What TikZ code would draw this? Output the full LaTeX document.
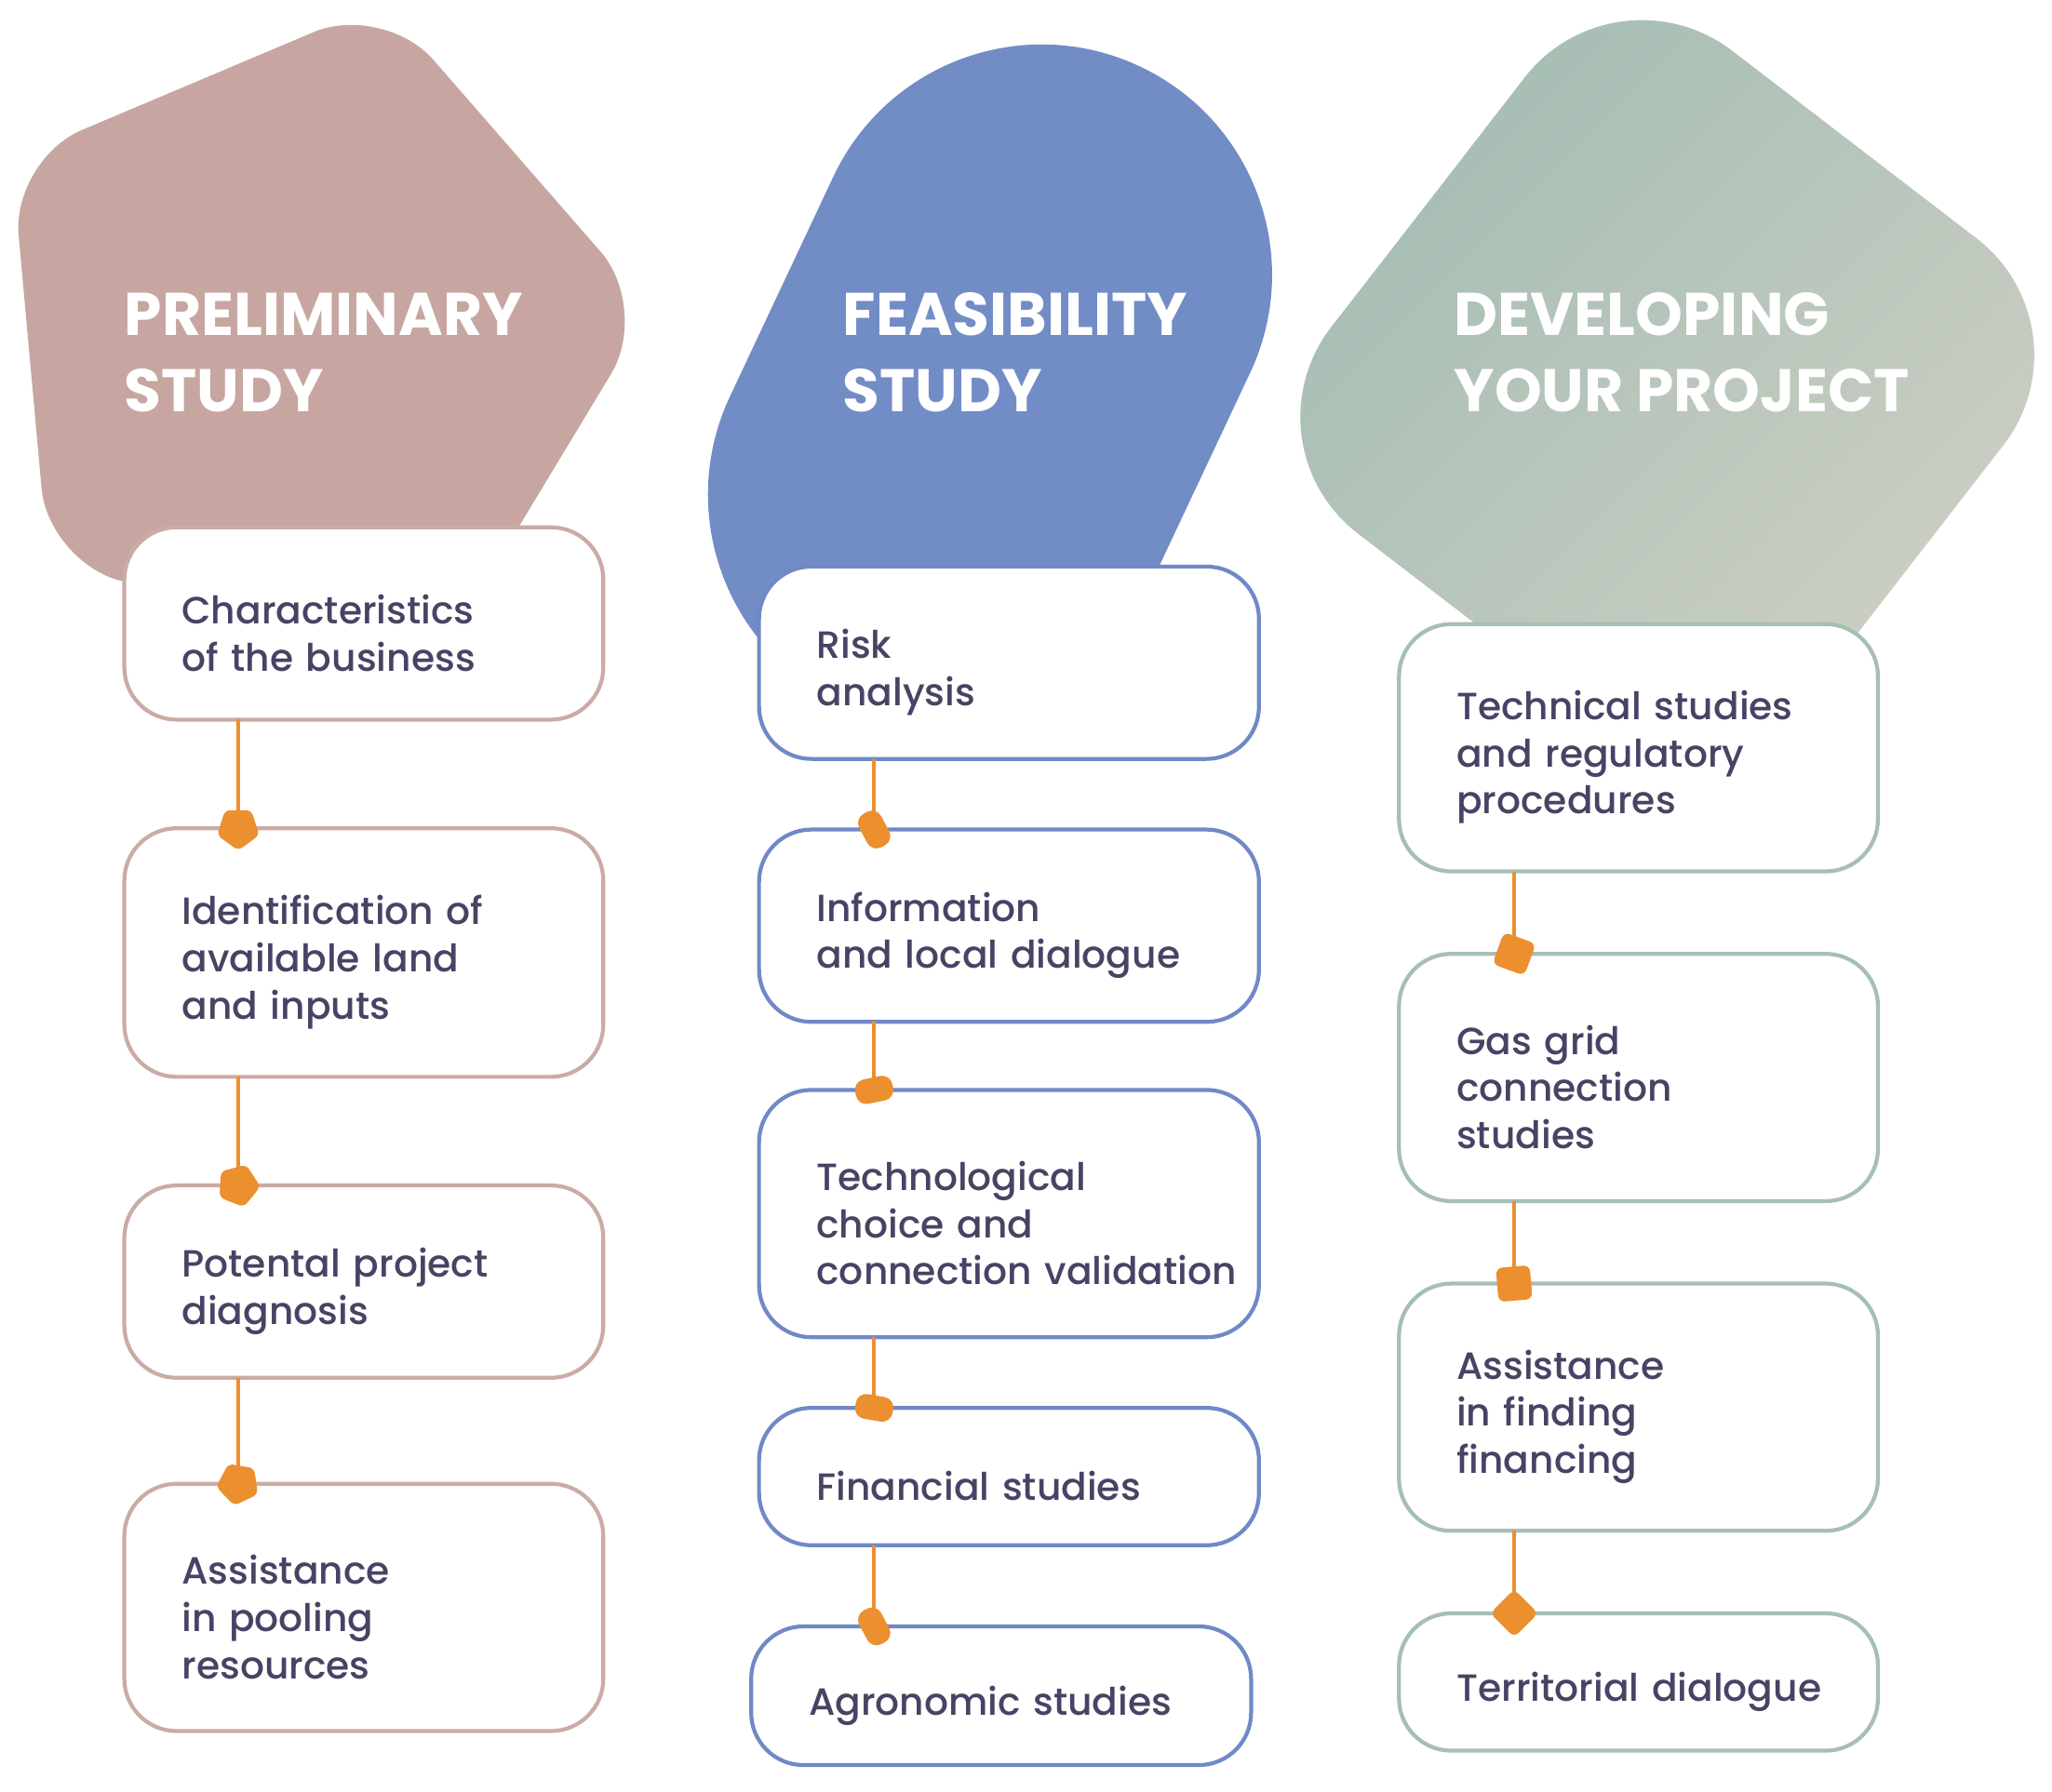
\documentclass[tikz,border=0pt]{standalone}
\usepackage{fontspec}
\setmainfont{Poppins}[UprightFont=* Medium, BoldFont=* Bold]
\usetikzlibrary{positioning,shapes.geometric}
\definecolor{rosefill}{HTML}{C7A6A1}
\definecolor{roseline}{HTML}{CBABA5}
\definecolor{bluefill}{HTML}{728CC6}
\definecolor{blueline}{HTML}{7089C6}
\definecolor{greentop}{HTML}{A2BCB2}
\definecolor{greenlow}{HTML}{D0D0C5}
\definecolor{greenline}{HTML}{A5BFB5}
\definecolor{ink}{HTML}{4A4264}
\definecolor{linkorange}{HTML}{EC8F2F}
\tikzset{box/.style = {draw, fill=white, line width=3pt, rounded corners=40pt, align=left, inner xsep=44pt, inner ysep=0pt, outer sep=0pt, text=ink, font=\fontsize{29}{36}\selectfont, execute at begin node={\rule{0pt}{37pt}}},
         link/.style = {draw=linkorange, line width=3pt}}

\begin{document}
\begin{tikzpicture}[x=1pt, y=-1pt, node distance=83pt,
    pbox/.style={box, draw=roseline, text width=278pt},
    fbox/.style={box, draw=blueline, text width=294pt},
    dbox/.style={box, draw=greenline, text width=278pt},
    title/.style={text=white, align=left, inner sep=0pt, anchor=base west, font=\bfseries\fontsize{46}{59}\selectfont},
    pmark/.style={regular polygon, regular polygon sides=5, fill=linkorange, minimum size=34pt, inner sep=0pt, rounded corners=4pt},
    fmark/.style={rectangle, fill=linkorange, minimum width=29pt, minimum height=19pt, inner sep=0pt, rounded corners=8pt},
    dmark/.style={rectangle, fill=linkorange, minimum size=26pt, inner sep=0pt, rounded corners=5pt}]
\useasboundingbox (0,0) rectangle (1568,1369);

% background shapes
\fill[rosefill, rounded corners=58pt] (151,62) -- (293,2) -- (497,236) -- (337,501) -- (37,431) -- (9,122) -- cycle;
\draw[bluefill, line width=352pt, line cap=round] (796,210) -- (717,378);
\shade[top color=greentop, bottom color=greenlow, shading angle=45, rounded corners=113pt] (1091,155) -- (1234,-30) -- (1600,251) -- (1314,620) -- (948,339) -- cycle;

\node[title] (tp) at (95,315) {PRELIMINARY\\STUDY};
\node[title] (tf) at (644,315) {FEASIBILITY\\STUDY};
\node[title] (td) at (1111,315) {DEVELOPING\\YOUR PROJECT};

% preliminary study
\node[pbox, minimum height=147pt] (p1) at (278,476.5) {Characteristics\\of the business};
\node[pbox, minimum height=190pt] (p2) [below=of p1] {Identification of\\available land\\and inputs};
\node[pbox, minimum height=147pt] (p3) [below=of p2] {Potental project\\diagnosis};
\node[pbox, minimum height=189pt] (p4) [below=81pt of p3] {Assistance\\in pooling\\resources};

% feasibility study
\node[fbox, minimum height=147pt] (f1) at (771,506.5) {Risk\\analysis};
\node[fbox, minimum height=147pt] (f2) [below=54pt of f1] {Information\\\mbox{and local dialogue}};
\node[fbox, minimum height=189pt] (f3) [below=52pt of f2] {Technological\\choice and\\\mbox{connection validation}};
\node[fbox, minimum height=105pt] (f4) [below=54pt of f3] {Financial studies};
\node[fbox, minimum height=106pt] (f5) [below=62pt of f4, xshift=-6pt] {Agronomic studies};

% developing your project
\node[dbox, minimum height=189pt] (d1) at (1252,571.5) {Technical studies\\and regulatory\\procedures};
\node[dbox, minimum height=189pt] (d2) [below=63pt of d1] {Gas grid\\connection\\studies};
\node[dbox, minimum height=189pt] (d3) [below=63pt of d2] {Assistance\\in finding\\financing};
\node[dbox, minimum height=105pt] (d4) [below=63pt of d3] {\mbox{Territorial dialogue}};

% links
\coordinate (px) at (182,0);
\coordinate (fx) at (668,0);
\coordinate (dx) at (1157,0);
\foreach \a/\b in {p1/p2,p2/p3,p3/p4}
    \draw[link] (\a.south -| px) -- (\b.north -| px);
\foreach \a/\b in {f1/f2,f2/f3,f3/f4,f4/f5}
    \draw[link] (\a.south -| fx) -- (\b.north -| fx);
\foreach \a/\b in {d1/d2,d2/d3,d3/d4}
    \draw[link] (\a.south -| dx) -- (\b.north -| dx);

\node[pmark, rotate=180] (pm2) at (p2.north -| px) {};
\node[pmark, rotate=195] (pm3) at (p3.north -| px) {};
\node[pmark, rotate=170] (pm4) at (p4.north -| px) {};
\node[fmark, rotate=-62] (fm2) at (f2.north -| fx) {};
\node[fmark, rotate=12] (fm3) at (f3.north -| fx) {};
\node[fmark, rotate=-10] (fm4) at (f4.north -| fx) {};
\node[fmark, rotate=-62] (fm5) at (f5.north -| fx) {};
\node[dmark, rotate=-20] (dm2) at (d2.north -| dx) {};
\node[dmark, rotate=5] (dm3) at (d3.north -| dx) {};
\node[dmark, rotate=45] (dm4) at (d4.north -| dx) {};
\end{tikzpicture}
\end{document}
